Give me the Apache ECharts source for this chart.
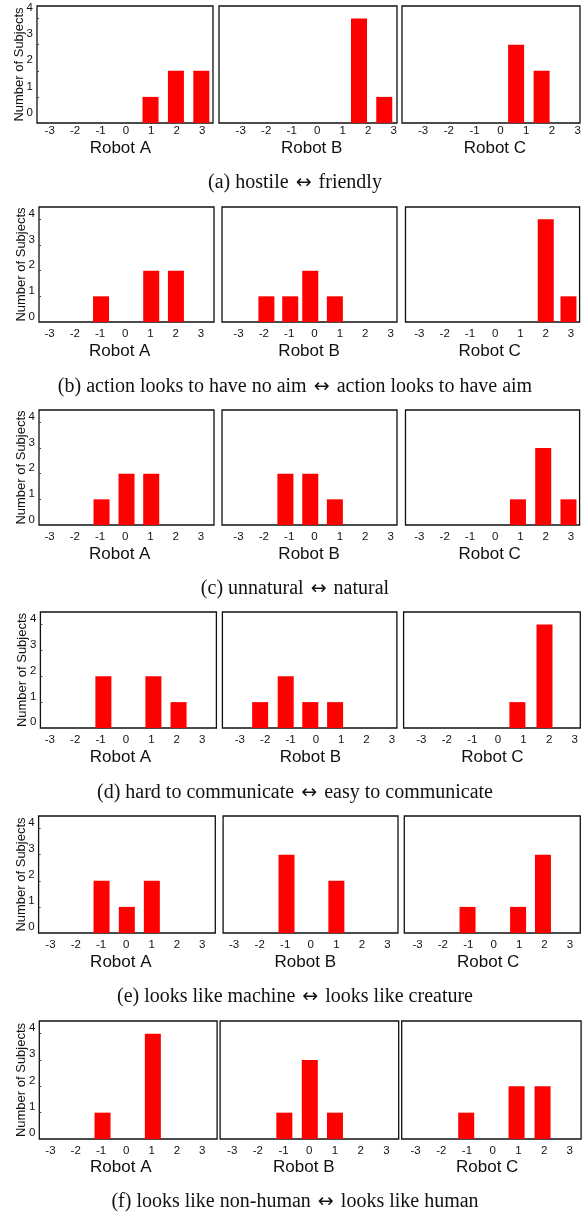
<!DOCTYPE html>
<html>
<head>
<meta charset="utf-8">
<script src="https://cdn.jsdelivr.net/npm/echarts@6/dist/echarts.min.js"></script>
<style>
html,body{margin:0;padding:0;background:#fff;}
#c{width:587px;height:1216px;}
</style>
</head>
<body>
<div id="c"></div>
<script>
// ---------------- data ----------------
const ratings = [-3, -2, -1, 0, 1, 2, 3];
const yTicks = [0, 1, 2, 3, 4];
const robots = ['Robot A', 'Robot B', 'Robot C'];
const yName = 'Number of Subjects';
const captions = [
  '(a) hostile \u2194 friendly',
  '(b) action looks to have no aim \u2194 action looks to have aim',
  '(c) unnatural \u2194 natural',
  '(d) hard to communicate \u2194 easy to communicate',
  '(e) looks like machine \u2194 looks like creature',
  '(f) looks like non-human \u2194 looks like human'
];
// bar positions (read on each panel's own rating scale) and counts, per robot A, B, C
const hostilePos = [[0.97, 1.97, 2.97], [1.64, 2.63], [0.61, 1.60]];
const hostileCnt = [[1, 2, 2], [4, 1], [3, 2]];
const aimPos = [[-0.96, 1.03, 2.01], [-1.9, -0.96, -0.17, 0.80], [2.0, 2.9]];
const aimCnt = [[1, 2, 2], [1, 1, 2, 1], [4, 1]];
const naturalPos = [[-0.94, 0.05, 1.03], [-1.15, -0.17, 0.80], [0.90, 1.90, 2.90]];
const naturalCnt = [[1, 2, 2], [2, 2, 1], [1, 3, 1]];
const commPos = [[-0.89, 1.08, 2.07], [-2.2, -1.19, -0.22, 0.76], [0.76, 1.82]];
const commCnt = [[2, 2, 1], [1, 2, 1, 1], [1, 4]];
const creaturePos = [[-0.98, 0.02, 1.01], [-0.95, 1.0], [-1.03, 0.96, 1.94]];
const creatureCnt = [[2, 1, 2], [3, 2], [1, 1, 3]];
const humanPos = [[-0.94, 1.05], [-0.97, 0.02, 1.0], [-1.03, 0.93, 1.94]];
const humanCnt = [[1, 4], [1, 3, 1], [1, 2, 2]];

const allPos = [hostilePos, aimPos, naturalPos, commPos, creaturePos, humanPos];
const allCnt = [hostileCnt, aimCnt, naturalCnt, commCnt, creatureCnt, humanCnt];

// ---------------- layout ----------------
const rowTop = [6, 207, 410, 612, 816, 1021];
const rowBottom = [123, 322, 525, 728, 933, 1139];
const panelLR = [
  [[37, 213], [219, 397], [402, 580]],
  [[39, 214], [222, 397], [405.5, 579.6]],
  [[39, 214], [222, 397], [405.5, 579.6]],
  [[40.4, 216.4], [222.4, 396.9], [403.6, 580.3]],
  [[38.6, 215.3], [223.1, 398], [404.3, 580.3]],
  [[39.3, 217.1], [220.1, 398.7], [401.7, 581.1]]
];
const xRange = [
  [[-3.50, 3.43], [-3.85, 3.13], [-3.82, 3.09]],
  [[-3.42, 3.52], [-3.65, 3.25], [-3.55, 3.34]],
  [[-3.42, 3.52], [-3.65, 3.25], [-3.55, 3.34]],
  [[-3.37, 3.56], [-3.69, 3.20], [-3.69, 3.22]],
  [[-3.47, 3.52], [-3.43, 3.41], [-3.52, 3.41]],
  [[-3.44, 3.59], [-3.47, 3.48], [-3.54, 3.44]]
];
const yLabelOffset = [0.4, 0.22, 0.22, 0.22, 0.22, 0.22];
const xLabelMargin = [2, 6, 6, 6, 6, 6];
const robotGap = [25, 29, 29, 29, 29, 28];
const captionY = [183, 387, 589, 793, 997, 1202];
const yMax = 4.48;

const SANS = "'Liberation Sans', Arial, Helvetica, sans-serif";
const SERIF = "'Liberation Serif', 'Times New Roman', serif";

const grids = [], xAxes = [], yAxes = [], series = [];
for (let r = 0; r < 6; r++) {
  for (let c = 0; c < 3; c++) {
    const idx = r * 3 + c;
    const lr = panelLR[r][c];
    grids.push({
      left: lr[0], top: rowTop[r], width: lr[1] - lr[0], height: rowBottom[r] - rowTop[r],
      show: true, borderColor: '#111', borderWidth: 1.3, backgroundColor: '#fff',
      containLabel: false, outerBoundsMode: 'none'
    });
    xAxes.push({
      gridIndex: idx, type: 'value', min: xRange[r][c][0], max: xRange[r][c][1],
      axisLine: { show: false, onZero: false }, axisTick: { show: false }, splitLine: { show: false },
      axisLabel: {
        customValues: ratings, formatter: v => String(Math.round(v)),
        margin: xLabelMargin[r], fontSize: 11.5, color: '#111', fontFamily: SANS
      }
    });
    const off = yLabelOffset[r];
    yAxes.push({
      gridIndex: idx, type: 'value', min: 0, max: yMax, position: 'left',
      axisLine: { show: false, onZero: false }, splitLine: { show: false },
      axisTick: { show: c === 0, inside: true, length: 2, customValues: [1, 2, 3, 4], lineStyle: { color: '#444', width: 1 } },
      axisLabel: {
        show: c === 0, customValues: yTicks.map(v => v + off),
        formatter: v => String(Math.round(v - off)),
        margin: 4, fontSize: 11.5, color: '#111', fontFamily: SANS
      },
      name: c === 0 ? yName : '', nameLocation: 'middle', nameGap: 11, nameMoveOverlap: false,
      nameTextStyle: { fontSize: 13, color: '#111', fontFamily: SANS }
    });
    series.push({
      type: 'bar', xAxisIndex: idx, yAxisIndex: idx, barWidth: 16,
      itemStyle: { color: '#ff0000' }, silent: true, animation: false,
      data: allPos[r][c].map((p, i) => [p, allCnt[r][c][i]])
    });
  }
}

const chart = echarts.init(document.getElementById('c'), null, { renderer: 'canvas' });
chart.setOption({
  animation: false, backgroundColor: '#fff',
  grid: grids, xAxis: xAxes, yAxis: yAxes, series: series
});

const texts = [];
for (let r = 0; r < 6; r++) {
  for (let c = 0; c < 3; c++) {
    const idx = r * 3 + c;
    const x0 = chart.convertToPixel({ xAxisIndex: idx }, 0);
    texts.push({
      type: 'text', x: x0 - 5.5, y: rowBottom[r] + robotGap[r],
      style: { text: robots[c], font: '17px ' + SANS, fill: '#111', align: 'center', verticalAlign: 'middle' }
    });
  }
  const parts = captions[r].split('\u2194');
  texts.push({
    type: 'text', x: 295, y: captionY[r],
    style: {
      text: '{t|' + parts[0] + '}{a|\u2194}{t|' + parts[1] + '}',
      align: 'center', verticalAlign: 'middle',
      rich: {
        t: { font: '20px ' + SERIF, fill: '#111' },
        a: { font: '19px "DejaVu Sans"', fill: '#111', width: 20, align: 'center' }
      }
    }
  });
}
chart.setOption({ graphic: { elements: texts } });
</script>
</body>
</html>
